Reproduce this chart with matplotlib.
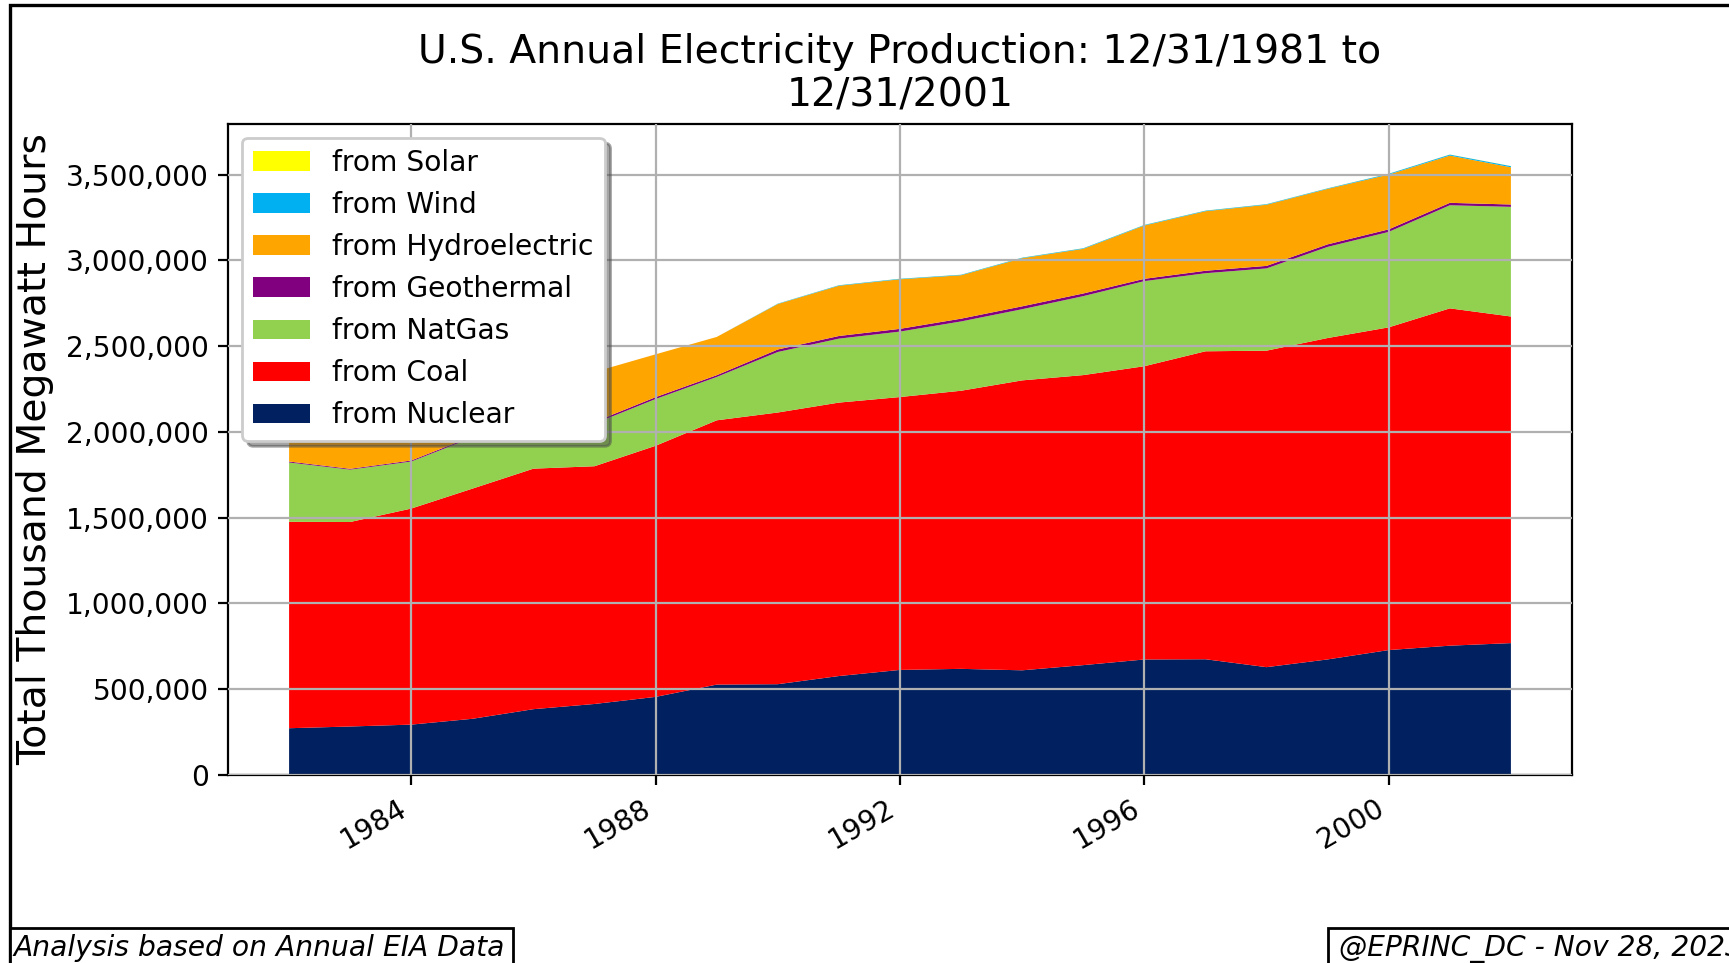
#!/usr/bin/env python3
"""
Stacked area chart of U.S. annual electricity production by source, 1981-2001.
"""

from datetime import datetime

import matplotlib
matplotlib.use("Agg")
import matplotlib.dates as mdates
import matplotlib.pyplot as plt
from matplotlib.patches import Rectangle
from matplotlib.ticker import FuncFormatter

# thousand MWh per year
years = list(range(1981, 2002))
nuclear = [272674, 282773, 293677, 327634, 383691, 414038, 455270, 526973, 529355, 576862, 612565,
           618776, 610291, 640440, 673402, 674729, 628644, 673702, 728254, 753893, 768826]
coal = [1203203, 1192004, 1259424, 1341681, 1402128, 1385831, 1463781, 1540653, 1583779, 1594011, 1590623,
        1621206, 1690070, 1690694, 1709426, 1795196, 1845016, 1873516, 1881087, 1966265, 1903956]
natgas = [345777, 305260, 274098, 297394, 291946, 248508, 272621, 252801, 352776, 372765, 381553,
          404074, 414927, 460219, 496058, 455056, 479399, 531257, 556396, 601038, 639129]
geothermal = [5686, 4843, 6075, 7741, 9325, 10308, 10775, 10300, 14593, 15434, 15966,
              16138, 16789, 15535, 13378, 14329, 14726, 14774, 14827, 14093, 13741]
hydro = [260684, 309213, 332130, 321150, 281149, 290844, 249695, 222938, 265063, 292866, 288994,
         253088, 280494, 260126, 310833, 347162, 356453, 323336, 319536, 275573, 216961]
wind = [0, 0, 3, 6, 6, 4, 16, 0, 2112, 2789, 2951,
        2888, 3006, 3447, 3164, 3234, 3288, 3026, 4488, 5593, 6737]
solar = [0, 0, 0, 0, 11, 15, 11, 9, 344, 367, 444,
         364, 462, 480, 497, 521, 511, 502, 495, 493, 543]

labels = ["from Nuclear", "from Coal", "from NatGas", "from Geothermal",
          "from Hydroelectric", "from Wind", "from Solar"]
colors = ["#002060", "#FF0000", "#92D050", "#800080", "#FFA500", "#00B0F0", "#FFFF00"]

W, H, DPI = 1729, 963, 200


def main() -> None:
    plt.rcParams["font.size"] = 10.15
    dates = [datetime(y, 12, 31) for y in years]

    fig = plt.figure(figsize=(W / DPI, H / DPI), dpi=DPI)
    ax = fig.add_axes([228 / W, 1 - 775 / H, (1572 - 228) / W, (775 - 123.5) / H])

    ax.stackplot(dates, nuclear, coal, natgas, geothermal, hydro, wind, solar,
                 labels=labels, colors=colors)

    ax.grid(True)
    ax.set_axisbelow(False)
    ax.set_title("U.S. Annual Electricity Production: 12/31/1981 to\n12/31/2001", fontsize=14.2)
    ax.set_ylabel("Total Thousand Megawatt Hours", fontsize=14.2)
    ax.yaxis.set_major_formatter(FuncFormatter(lambda v, _: f"{v:,.0f}"))
    ax.xaxis.set_major_locator(mdates.YearLocator(4))
    ax.xaxis.set_major_formatter(mdates.DateFormatter("%Y"))
    plt.setp(ax.get_xticklabels(), rotation=30, ha="right")

    handles, labs = ax.get_legend_handles_labels()
    ax.legend(handles[::-1], labs[::-1], loc="upper left", shadow=True)

    # figure frame (cropped on right and bottom in the reference)
    fig.patches.append(Rectangle((10 / W, -0.2), 1.2, 1.2 - 5 / H, transform=fig.transFigure,
                                 fill=False, edgecolor="black", linewidth=1.2))

    # footer boxes, also cropped at the canvas edge
    for x0, x1 in [(10, 513), (1328, W + 50)]:
        fig.patches.append(Rectangle((x0 / W, -0.1), (x1 - x0) / W, 0.1 + (H - 928) / H,
                                     transform=fig.transFigure, facecolor="white",
                                     edgecolor="black", linewidth=1.0))
    fig.text(14 / W, (H - 956) / H, "Analysis based on Annual EIA Data", style="italic",
             va="baseline", ha="left")
    fig.text(1339 / W, (H - 956) / H, "@EPRINC_DC - Nov 28, 2023", style="italic",
             va="baseline", ha="left")

    fig.savefig("out.png", dpi=DPI)
    plt.close(fig)


if __name__ == "__main__":
    main()
